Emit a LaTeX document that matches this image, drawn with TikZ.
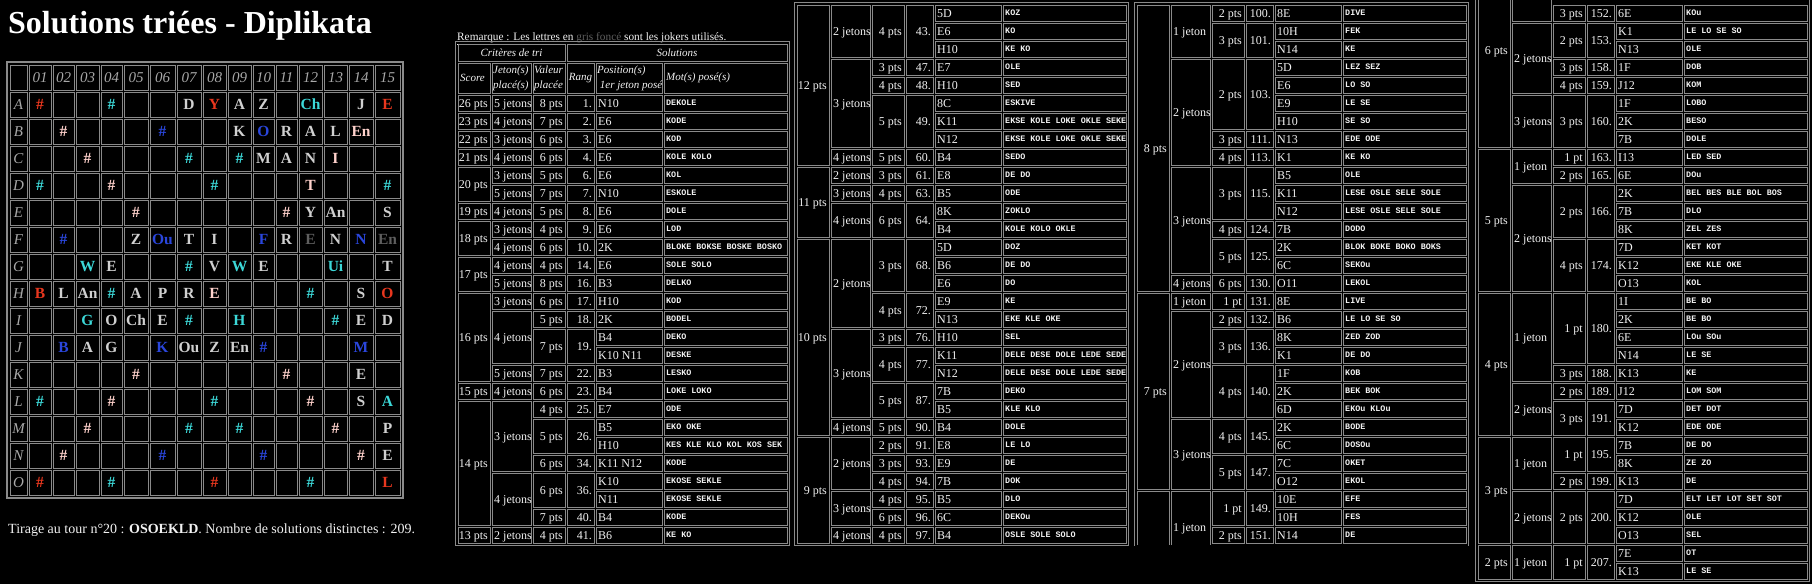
\documentclass[tikz,border=0pt]{standalone}
\usepackage{fontspec}
\setmainfont{Liberation Serif}
\newfontfamily\wordfont{Liberation Mono}
\usepackage{xcolor}
\usetikzlibrary{positioning}

\definecolor{tileR}{HTML}{E8371E}
\definecolor{tileC}{HTML}{3CD8D8}
\definecolor{tileP}{HTML}{FFD2CC}
\definecolor{tileB}{HTML}{2A46DC}
\definecolor{tileW}{HTML}{D0D0D0}
\definecolor{tileD}{HTML}{5E5E5E}
\definecolor{gridgray}{HTML}{8A8A8A}
\definecolor{labelgray}{HTML}{A8A8A8}
\definecolor{inkwhite}{HTML}{F2F2F2}

% column edges of a result table, column edges of the board
\def\colsx{{0,34,75,109,138,206,331}}
\def\bcols{{9,28,52,75,100,123,149,176,202,227,252,275,298,323,348,374,401}}

% #2 column, #3 first row, #4 rows, #5 0=left 1=right, #6 text
\newcommand*{\tcell}[6][]{%
  \pgfmathsetmacro\cxl{\colsx[#2]}%
  \pgfmathsetmacro\cxr{\colsx[#2+1]}%
  \pgfmathsetmacro\cyt{18*#3}%
  \pgfmathsetmacro\cyb{18*(#3+#4)}%
  \pgfmathsetmacro\cxa{#5==0 ? \cxl+3 : \cxr-3}%
  \ifcase#5 \def\canc{west}\or\def\canc{east}\fi
  \draw[cellline] (\cxl+1,\cyt+1) rectangle (\cxr-1,\cyb-1);
  \node[celltext,#1,anchor=\canc] (\tabname c#2r#3) at (\cxa,{(\cyt+\cyb)/2}) {#6};%
}
\newcommand*{\scorecell}[3]{\tcell{0}{#1}{#2}{1}{#3}}
\newcommand*{\jetcell}[3]{\tcell{1}{#1}{#2}{0}{#3}}
\newcommand*{\valcell}[3]{\tcell{2}{#1}{#2}{1}{#3}}
\newcommand*{\rangcell}[3]{\tcell{3}{#1}{#2}{1}{#3}}
\newcommand*{\solrow}[3]{\tcell{4}{#1}{1}{0}{#2}\tcell[wordtext]{5}{#1}{1}{0}{#3}}
\newcommand*{\valrow}[5]{\valcell{#1}{1}{#2}\rangcell{#1}{1}{#3}\solrow{#1}{#4}{#5}}
\newcommand*{\fullrow}[7]{\scorecell{#1}{1}{#2}\jetcell{#1}{1}{#3}\valrow{#1}{#4}{#5}{#6}{#7}}

% middle of board column #1
\newcommand*{\bmid}[1]{%
  \pgfmathsetmacro\bxl{\bcols[#1]}%
  \pgfmathsetmacro\bxr{\bcols[#1+1]}%
  \pgfmathsetmacro\bxc{(\bxl+\bxr)/2}%
}
% board square: row, column, colour, letter
\newcommand*{\tile}[4]{%
  \bmid{#2}%
  \edef\tcol{tile#3}%
  \node[tiletext,text=\tcol] (b#1-#2) at (\bxc,{91+27*#1-13.5}) {#4};%
}

\begin{document}
\begin{tikzpicture}[x=1pt, y=-1pt,
    cellline/.style  = {draw=gridgray, line width=0.9pt},
    boardline/.style = {draw=gridgray, line width=0.9pt},
    celltext/.style  = {text=inkwhite, inner sep=0pt,
      font=\fontsize{12}{14}\selectfont, text height=9.5pt, text depth=1pt},
    wordtext/.style  = {font={\wordfont\bfseries\fontsize{8.4}{10}\selectfont},
      text height=6.5pt},
    headtext/.style  = {text=inkwhite, inner sep=0pt, align=left,
      font=\itshape\fontsize{11}{15}\selectfont},
    tiletext/.style  = {inner sep=0pt, text height=10.5pt, text depth=0pt,
      font=\bfseries\fontsize{15.5}{18}\selectfont},
    boardlabel/.style= {text=labelgray, inner sep=0pt, text height=10pt,
      text depth=0pt, font=\itshape\fontsize{15}{18}\selectfont}]
  \fill[black] (0,0) rectangle (1812,584);
  \useasboundingbox (0,0) rectangle (1812,584);

  \node[anchor=base west, inner sep=0pt, text=white,
    font=\bfseries\fontsize{32}{36}\selectfont] (title) at (8,33)
    {Solutions triées - Diplikata};

  % the board
  \draw[gridgray, line width=1.2pt] (7,62) rectangle (403,498);
  \foreach \r in {0,...,15}{
    \foreach \c in {0,...,15}{
      \bmid{\c}
      \draw[boardline] (\bxl+1,64+27*\r+1) rectangle (\bxr-1,64+27*\r+26);
    }
  }
  \foreach \c in {1,...,15}{
    \bmid{\c}
    \node[boardlabel] (h\c) at (\bxc,77.5) {\ifnum\c<10 0\fi\c};
  }
  \foreach \l [count=\r] in {A,B,C,D,E,F,G,H,I,J,K,L,M,N,O}
    \node[boardlabel] (l\l) at (18.5,{91+27*\r-13.5}) {\l};

  \foreach \c/\k/\t in {1/R/\#,4/C/\#,7/W/D,8/R/Y,9/W/A,10/W/Z,12/C/Ch,14/W/J,15/R/E}{\tile{1}{\c}{\k}{\t}}
  \foreach \c/\k/\t in {2/P/\#,6/B/\#,9/W/K,10/B/O,11/W/R,12/W/A,13/W/L,14/P/En}{\tile{2}{\c}{\k}{\t}}
  \foreach \c/\k/\t in {3/P/\#,7/C/\#,9/C/\#,10/W/M,11/W/A,12/W/N,13/P/I}{\tile{3}{\c}{\k}{\t}}
  \foreach \c/\k/\t in {1/C/\#,4/P/\#,8/C/\#,12/P/T,15/C/\#}{\tile{4}{\c}{\k}{\t}}
  \foreach \c/\k/\t in {5/P/\#,11/P/\#,12/W/Y,13/W/An,15/W/S}{\tile{5}{\c}{\k}{\t}}
  \foreach \c/\k/\t in {2/B/\#,5/W/Z,6/B/Ou,7/W/T,8/W/I,10/B/F,11/W/R,12/D/E,13/W/N,14/B/N,15/D/En}{\tile{6}{\c}{\k}{\t}}
  \foreach \c/\k/\t in {3/C/W,4/W/E,7/C/\#,8/W/V,9/C/W,10/W/E,13/C/Ui,15/W/T}{\tile{7}{\c}{\k}{\t}}
  \foreach \c/\k/\t in {1/R/B,2/W/L,3/W/An,4/C/\#,5/W/A,6/W/P,7/W/R,8/P/E,12/C/\#,14/W/S,15/R/O}{\tile{8}{\c}{\k}{\t}}
  \foreach \c/\k/\t in {3/C/G,4/W/O,5/W/Ch,6/W/E,7/C/\#,9/C/H,13/C/\#,14/W/E,15/W/D}{\tile{9}{\c}{\k}{\t}}
  \foreach \c/\k/\t in {2/B/B,3/W/A,4/W/G,6/B/K,7/W/Ou,8/W/Z,9/W/En,10/B/\#,14/B/M}{\tile{10}{\c}{\k}{\t}}
  \foreach \c/\k/\t in {5/P/\#,11/P/\#,14/W/E}{\tile{11}{\c}{\k}{\t}}
  \foreach \c/\k/\t in {1/C/\#,4/P/\#,8/C/\#,12/P/\#,14/W/S,15/C/A}{\tile{12}{\c}{\k}{\t}}
  \foreach \c/\k/\t in {3/P/\#,7/C/\#,9/C/\#,13/P/\#,15/W/P}{\tile{13}{\c}{\k}{\t}}
  \foreach \c/\k/\t in {2/P/\#,6/B/\#,10/B/\#,14/P/\#,15/W/E}{\tile{14}{\c}{\k}{\t}}
  \foreach \c/\k/\t in {1/R/\#,4/C/\#,8/R/\#,12/C/\#,15/R/L}{\tile{15}{\c}{\k}{\t}}

  \node[anchor=base west, inner sep=0pt, text=inkwhite,
    font=\fontsize{14}{16}\selectfont] (tirage) at (8,533)
    {Tirage au tour n°20 : \textbf{OSOEKLD}. Nombre de solutions distinctes : 209.};

  \node[anchor=base west, inner sep=0pt, text=inkwhite,
    font=\fontsize{11.3}{13}\selectfont] (remarque) at (457,40)
    {\underline{Remarque} : Les lettres en \textcolor{tileD}{gris foncé} sont les jokers utilisés.};

  % first column of results
  \begin{scope}[shift={(457,94)}]
    \def\tabname{ta}
    \draw[gridgray, line width=1.2pt] (-1.5,-52.5) rectangle (332.5,451.5);
    \draw[cellline] (1,-50) rectangle (108,-33);
    \draw[cellline] (110,-50) rectangle (330,-33);
    \node[headtext] (tahcrit) at (54.5,-41.5) {Critères de tri};
    \node[headtext] (tahsol) at (220,-41.5) {Solutions};
    \foreach \a/\b in {0/34,34/75,75/109,109/138,138/206,206/331}
      \draw[cellline] (\a+1,-31) rectangle (\b-1,-1);
    \node[headtext, anchor=west] (tahscore) at (3,-16) {Score};
    \node[headtext, anchor=west] (tahjet) at (36,-16) {Jeton(s)\\placé(s)};
    \node[headtext, anchor=west] (tahval) at (77,-16) {Valeur\\placée};
    \node[headtext] (taharang) at (123.5,-16) {Rang};
    \node[headtext, anchor=west] (tahpos) at (140,-16) {Position(s)\\\ 1er jeton posé};
    \node[headtext, anchor=west] (tahmot) at (209,-16) {Mot(s) posé(s)};

    \fullrow{0}{26 pts}{5 jetons}{8 pts}{1.}{N10}{DEKOLE}
    \fullrow{1}{23 pts}{4 jetons}{7 pts}{2.}{E6}{KODE}
    \fullrow{2}{22 pts}{3 jetons}{6 pts}{3.}{E6}{KOD}
    \fullrow{3}{21 pts}{4 jetons}{6 pts}{4.}{E6}{KOLE KOLO}
    \scorecell{4}{2}{20 pts}
    \jetcell{4}{1}{3 jetons}\valrow{4}{5 pts}{6.}{E6}{KOL}
    \jetcell{5}{1}{5 jetons}\valrow{5}{7 pts}{7.}{N10}{ESKOLE}
    \fullrow{6}{19 pts}{4 jetons}{5 pts}{8.}{E6}{DOLE}
    \scorecell{7}{2}{18 pts}
    \jetcell{7}{1}{3 jetons}\valrow{7}{4 pts}{9.}{E6}{LOD}
    \jetcell{8}{1}{4 jetons}\valrow{8}{6 pts}{10.}{2K}{BLOKE BOKSE BOSKE BOSKO}
    \scorecell{9}{2}{17 pts}
    \jetcell{9}{1}{4 jetons}\valrow{9}{4 pts}{14.}{E6}{SOLE SOLO}
    \jetcell{10}{1}{5 jetons}\valrow{10}{8 pts}{16.}{B3}{DELKO}
    \scorecell{11}{5}{16 pts}
    \jetcell{11}{1}{3 jetons}\valrow{11}{6 pts}{17.}{H10}{KOD}
    \jetcell{12}{3}{4 jetons}\valrow{12}{5 pts}{18.}{2K}{BODEL}
    \valcell{13}{2}{7 pts}\rangcell{13}{2}{19.}\solrow{13}{B4}{DEKO}\solrow{14}{K10 N11}{DESKE}
    \jetcell{15}{1}{5 jetons}\valrow{15}{7 pts}{22.}{B3}{LESKO}
    \fullrow{16}{15 pts}{4 jetons}{6 pts}{23.}{B4}{LOKE LOKO}
    \scorecell{17}{7}{14 pts}
    \jetcell{17}{4}{3 jetons}\valrow{17}{4 pts}{25.}{E7}{ODE}
    \valcell{18}{2}{5 pts}\rangcell{18}{2}{26.}\solrow{18}{B5}{EKO OKE}\solrow{19}{H10}{KES KLE KLO KOL KOS SEK}
    \valrow{20}{6 pts}{34.}{K11 N12}{KODE}
    \jetcell{21}{3}{4 jetons}\valcell{21}{2}{6 pts}\rangcell{21}{2}{36.}\solrow{21}{K10}{EKOSE SEKLE}\solrow{22}{N11}{EKOSE SEKLE}
    \valrow{23}{7 pts}{40.}{B4}{KODE}
    \fullrow{24}{13 pts}{2 jetons}{4 pts}{41.}{B6}{KE KO}
  \end{scope}

  % second column
  \begin{scope}[shift={(796,4)}]
    \def\tabname{tb}
    \draw[gridgray, line width=1.2pt] (-1.5,-1.5) rectangle (332.5,541.5);
    \scorecell{0}{9}{12 pts}
    \jetcell{0}{3}{2 jetons}\valcell{0}{3}{4 pts}\rangcell{0}{3}{43.}
    \solrow{0}{5D}{KOZ}\solrow{1}{E6}{KO}\solrow{2}{H10}{KE KO}
    \jetcell{3}{5}{3 jetons}\valrow{3}{3 pts}{47.}{E7}{OLE}
    \valrow{4}{4 pts}{48.}{H10}{SED}
    \valcell{5}{3}{5 pts}\rangcell{5}{3}{49.}
    \solrow{5}{8C}{ESKIVE}\solrow{6}{K11}{EKSE KOLE LOKE OKLE SEKE}\solrow{7}{N12}{EKSE KOLE LOKE OKLE SEKE}
    \jetcell{8}{1}{4 jetons}\valrow{8}{5 pts}{60.}{B4}{SEDO}
    \scorecell{9}{4}{11 pts}
    \jetcell{9}{1}{2 jetons}\valrow{9}{3 pts}{61.}{E8}{DE DO}
    \jetcell{10}{1}{3 jetons}\valrow{10}{4 pts}{63.}{B5}{ODE}
    \jetcell{11}{2}{4 jetons}\valcell{11}{2}{6 pts}\rangcell{11}{2}{64.}\solrow{11}{8K}{ZOKLO}\solrow{12}{B4}{KOLE KOLO OKLE}
    \scorecell{13}{11}{10 pts}
    \jetcell{13}{5}{2 jetons}\valcell{13}{3}{3 pts}\rangcell{13}{3}{68.}
    \solrow{13}{5D}{DOZ}\solrow{14}{B6}{DE DO}\solrow{15}{E6}{DO}
    \valcell{16}{2}{4 pts}\rangcell{16}{2}{72.}\solrow{16}{E9}{KE}\solrow{17}{N13}{EKE KLE OKE}
    \jetcell{18}{5}{3 jetons}\valrow{18}{3 pts}{76.}{H10}{SEL}
    \valcell{19}{2}{4 pts}\rangcell{19}{2}{77.}\solrow{19}{K11}{DELE DESE DOLE LEDE SEDE}\solrow{20}{N12}{DELE DESE DOLE LEDE SEDE}
    \valcell{21}{2}{5 pts}\rangcell{21}{2}{87.}\solrow{21}{7B}{DEKO}\solrow{22}{B5}{KLE KLO}
    \jetcell{23}{1}{4 jetons}\valrow{23}{5 pts}{90.}{B4}{DOLE}
    \scorecell{24}{6}{9 pts}
    \jetcell{24}{3}{2 jetons}\valrow{24}{2 pts}{91.}{E8}{LE LO}
    \valrow{25}{3 pts}{93.}{E9}{DE}
    \valrow{26}{4 pts}{94.}{7B}{DOK}
    \jetcell{27}{2}{3 jetons}\valrow{27}{4 pts}{95.}{B5}{DLO}
    \valrow{28}{6 pts}{96.}{6C}{DEKOu}
    \jetcell{29}{1}{4 jetons}\valrow{29}{4 pts}{97.}{B4}{OSLE SOLE SOLO}
  \end{scope}

  % third column
  \begin{scope}[shift={(1136,4)}]
    \def\tabname{tc}
    \draw[gridgray, line width=1.2pt] (-1.5,541.5) -- (-1.5,-1.5) -- (332.5,-1.5) -- (332.5,541.5);
    \scorecell{0}{16}{8 pts}
    \jetcell{0}{3}{1 jeton}\valrow{0}{2 pts}{100.}{8E}{DIVE}
    \valcell{1}{2}{3 pts}\rangcell{1}{2}{101.}\solrow{1}{10H}{FEK}\solrow{2}{N14}{KE}
    \jetcell{3}{6}{2 jetons}\valcell{3}{4}{2 pts}\rangcell{3}{4}{103.}
    \solrow{3}{5D}{LEZ SEZ}\solrow{4}{E6}{LO SO}\solrow{5}{E9}{LE SE}\solrow{6}{H10}{SE SO}
    \valrow{7}{3 pts}{111.}{N13}{EDE ODE}
    \valrow{8}{4 pts}{113.}{K1}{KE KO}
    \jetcell{9}{6}{3 jetons}\valcell{9}{3}{3 pts}\rangcell{9}{3}{115.}
    \solrow{9}{B5}{OLE}\solrow{10}{K11}{LESE OSLE SELE SOLE}\solrow{11}{N12}{LESE OSLE SELE SOLE}
    \valrow{12}{4 pts}{124.}{7B}{DODO}
    \valcell{13}{2}{5 pts}\rangcell{13}{2}{125.}\solrow{13}{2K}{BLOK BOKE BOKO BOKS}\solrow{14}{6C}{SEKOu}
    \jetcell{15}{1}{4 jetons}\valrow{15}{6 pts}{130.}{O11}{LEKOL}
    \scorecell{16}{11}{7 pts}
    \jetcell{16}{1}{1 jeton}\valrow{16}{1 pt}{131.}{8E}{LIVE}
    \jetcell{17}{6}{2 jetons}\valrow{17}{2 pts}{132.}{B6}{LE LO SE SO}
    \valcell{18}{2}{3 pts}\rangcell{18}{2}{136.}\solrow{18}{8K}{ZED ZOD}\solrow{19}{K1}{DE DO}
    \valcell{20}{3}{4 pts}\rangcell{20}{3}{140.}\solrow{20}{1F}{KOB}\solrow{21}{2K}{BEK BOK}\solrow{22}{6D}{EKOu KLOu}
    \jetcell{23}{4}{3 jetons}\valcell{23}{2}{4 pts}\rangcell{23}{2}{145.}\solrow{23}{2K}{BODE}\solrow{24}{6C}{DOSOu}
    \valcell{25}{2}{5 pts}\rangcell{25}{2}{147.}\solrow{25}{7C}{OKET}\solrow{26}{O12}{EKOL}
    % 6 pts goes on in the next column
    \draw[cellline] (1,541) -- (1,487) -- (33,487) -- (33,541);
    \draw[cellline] (35,541) -- (35,487) -- (74,487) -- (74,541);
    \node[celltext, anchor=west] (tcc1r27) at (37,523) {1 jeton};
    \valcell{27}{2}{1 pt}\rangcell{27}{2}{149.}\solrow{27}{10E}{EFE}\solrow{28}{10H}{FES}
    \valrow{29}{2 pts}{151.}{N14}{DE}
  \end{scope}

  % fourth column
  \begin{scope}[shift={(1477,4)}]
    \def\tabname{td}
    \draw[gridgray, line width=1.2pt] (-1.5,-4) -- (-1.5,577.5) -- (332.5,577.5) -- (332.5,-4);
    \draw[cellline] (1,-4) -- (1,143) -- (33,143) -- (33,-4);
    \node[celltext, anchor=east] (tdc0r0) at (31,46) {6 pts};
    \draw[cellline] (35,-4) -- (35,17) -- (74,17) -- (74,-4);
    \valrow{0}{3 pts}{152.}{6E}{KOu}
    \jetcell{1}{4}{2 jetons}\valcell{1}{2}{2 pts}\rangcell{1}{2}{153.}\solrow{1}{K1}{LE LO SE SO}\solrow{2}{N13}{OLE}
    \valrow{3}{3 pts}{158.}{1F}{DOB}
    \valrow{4}{4 pts}{159.}{J12}{KOM}
    \jetcell{5}{3}{3 jetons}\valcell{5}{3}{3 pts}\rangcell{5}{3}{160.}\solrow{5}{1F}{LOBO}\solrow{6}{2K}{BESO}\solrow{7}{7B}{DOLE}
    \scorecell{8}{8}{5 pts}
    \jetcell{8}{2}{1 jeton}\valrow{8}{1 pt}{163.}{I13}{LED SED}
    \valrow{9}{2 pts}{165.}{6E}{DOu}
    \jetcell{10}{6}{2 jetons}\valcell{10}{3}{2 pts}\rangcell{10}{3}{166.}\solrow{10}{2K}{BEL BES BLE BOL BOS}\solrow{11}{7B}{DLO}\solrow{12}{8K}{ZEL ZES}
    \valcell{13}{3}{4 pts}\rangcell{13}{3}{174.}\solrow{13}{7D}{KET KOT}\solrow{14}{K12}{EKE KLE OKE}\solrow{15}{O13}{KOL}
    \scorecell{16}{8}{4 pts}
    \jetcell{16}{5}{1 jeton}\valcell{16}{4}{1 pt}\rangcell{16}{4}{180.}\solrow{16}{1I}{BE BO}\solrow{17}{2K}{BE BO}\solrow{18}{6E}{LOu SOu}\solrow{19}{N14}{LE SE}
    \valrow{20}{3 pts}{188.}{K13}{KE}
    \jetcell{21}{3}{2 jetons}\valrow{21}{2 pts}{189.}{J12}{LOM SOM}
    \valcell{22}{2}{3 pts}\rangcell{22}{2}{191.}\solrow{22}{7D}{DET DOT}\solrow{23}{K12}{EDE ODE}
    \scorecell{24}{6}{3 pts}
    \jetcell{24}{3}{1 jeton}\valcell{24}{2}{1 pt}\rangcell{24}{2}{195.}\solrow{24}{7B}{DE DO}\solrow{25}{8K}{ZE ZO}
    \valrow{26}{2 pts}{199.}{K13}{DE}
    \jetcell{27}{3}{2 jetons}\valcell{27}{3}{2 pts}\rangcell{27}{3}{200.}\solrow{27}{7D}{ELT LET LOT SET SOT}\solrow{28}{K12}{OLE}\solrow{29}{O13}{SEL}
    \scorecell{30}{2}{2 pts}\jetcell{30}{2}{1 jeton}\valcell{30}{2}{1 pt}\rangcell{30}{2}{207.}\solrow{30}{7E}{OT}\solrow{31}{K13}{LE SE}
  \end{scope}
\end{tikzpicture}
\end{document}
